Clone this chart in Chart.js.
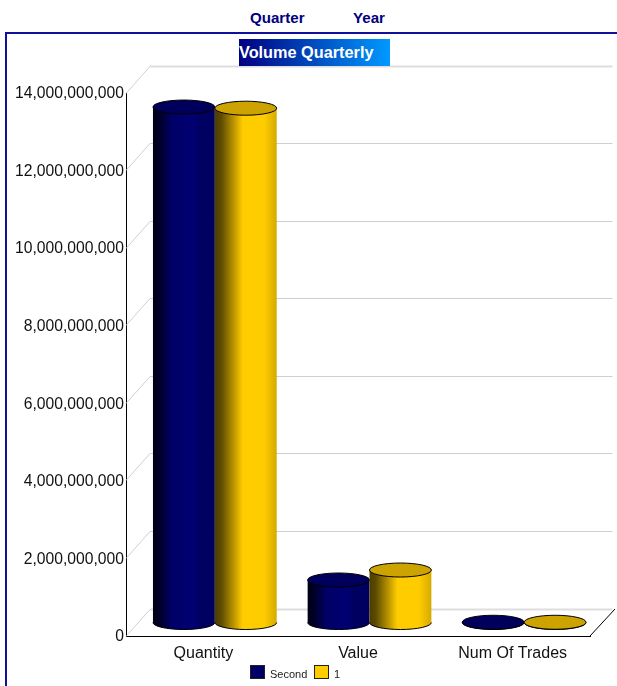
<!DOCTYPE html>
<html>
<head>
<meta charset="utf-8">
<title>Volume Quarterly</title>
<script src="https://cdn.jsdelivr.net/npm/chart.js@4"></script>
<style>
    html, body { margin: 0; padding: 0; background: #fff; overflow: hidden; }
    body { width: 617px; height: 686px; position: relative; font-family: "Liberation Sans", Arial, sans-serif; }
    .tab { position: absolute; top: 9px; font-size: 15.1px; font-weight: bold; color: #000080; }
    #frame { position: absolute; left: 5px; top: 32px; width: 640px; height: 680px; border: 2px solid #10109a; box-sizing: border-box; }
    #title { position: absolute; left: 239px; top: 39px; width: 151px; height: 27px; line-height: 27px; color: #fff; font-size: 16.3px; font-weight: bold; white-space: nowrap; background: linear-gradient(to right, #000080, #0099ff); }
    #chart { position: absolute; left: 0; top: 0; }
    #legend { position: absolute; left: 250px; top: 665px; font-size: 11px; color: #222; }
    #legend span { position: absolute; top: 0; white-space: nowrap; line-height: 18px; }
    #legend i { position: absolute; top: 0; width: 13px; height: 12px; border: 1px solid #222; }
</style>
</head>
<body>
<div class="tab" style="left:250px">Quarter</div>
<div class="tab" style="left:353px">Year</div>
<div id="frame"></div>
<canvas id="chart" width="617" height="686"></canvas>
<div id="title">Volume Quarterly</div>
<div id="legend"></div>
<script>
// Data
const categories = ['Quantity', 'Value', 'Num Of Trades'];
const seriesNames = ['Second', '1'];
const secondValues = [13290000000, 1096000000, 6000000];
const firstValues = [13260000000, 1353000000, 6000000];
const yTicks = [0, 2000000000, 4000000000, 6000000000, 8000000000, 10000000000, 12000000000, 14000000000];

const seriesColors = ['#000066', '#ffcc00'];
const topColors = ['#00005c', '#cca300'];
const sideStops = [
    [[0, '#000014'], [0.12, '#00002a'], [0.3, '#000066'], [0.55, '#000070'], [0.68, '#000070'], [0.75, '#000060'], [1, '#000060']],
    [[0, '#4d3e00'], [0.1, '#5c4a00'], [0.3, '#b89300'], [0.45, '#ffcc00'], [0.8, '#ffcc00'], [1, '#d4aa00']]
];

// Depth of the fake 3d box, and how far the cylinders sit inside it
const depthX = 24;
const depthY = 27;
const ellipseRy = 7;

const cylinders3d = {
    id: 'cylinders3d',
    beforeDatasetsDraw(chart) {
        const { ctx, chartArea: area, scales: { y } } = chart;

        ctx.save();
        // back wall and left wall lines, top and floor edges are heavier
        yTicks.forEach(tick => {
            const py = Math.floor(y.getPixelForValue(tick)) + 0.5;
            const heavy = tick === yTicks[0] || tick === yTicks[yTicks.length - 1];
            ctx.beginPath();
            ctx.moveTo(area.left, py);
            ctx.lineTo(area.left + depthX, py - depthY);
            ctx.strokeStyle = '#cfcfcf';
            ctx.lineWidth = 1;
            ctx.stroke();
            ctx.beginPath();
            ctx.moveTo(area.left + depthX, py - depthY);
            ctx.lineTo(area.right + depthX - 1.5, py - depthY);
            ctx.strokeStyle = heavy ? '#dddddd' : '#cfcfcf';
            ctx.lineWidth = heavy ? 2 : 1;
            ctx.stroke();
        });
        // floor right edge
        const floorY = y.getPixelForValue(0);
        ctx.strokeStyle = '#000';
        ctx.lineWidth = 1;
        ctx.beginPath();
        ctx.moveTo(area.right, floorY);
        ctx.lineTo(area.right + depthX + 1, floorY - depthY);
        ctx.stroke();

        chart.data.datasets.forEach((ds, i) => {
            chart.getDatasetMeta(i).data.forEach(bar => {
                const cx = bar.x + depthX / 2 - 0.5;
                const rx = bar.width / 2;
                const top = bar.y - depthY / 2;
                const bottom = bar.base - depthY / 2;

                const side = ctx.createLinearGradient(cx - rx, 0, cx + rx, 0);
                sideStops[i].forEach(s => side.addColorStop(s[0], s[1]));

                ctx.beginPath();
                ctx.moveTo(cx - rx, top);
                ctx.lineTo(cx - rx, bottom);
                ctx.ellipse(cx, bottom, rx, ellipseRy, 0, Math.PI, 0, true);
                ctx.lineTo(cx + rx, top);
                ctx.closePath();
                ctx.fillStyle = side;
                ctx.fill();

                // only the bottom arc and the top cap get an outline
                ctx.strokeStyle = '#000';
                ctx.beginPath();
                ctx.ellipse(cx, bottom, rx, ellipseRy, 0, Math.PI, 0, true);
                ctx.stroke();

                ctx.beginPath();
                ctx.ellipse(cx, top, rx, ellipseRy, 0, 0, Math.PI * 2);
                ctx.fillStyle = topColors[i];
                ctx.fill();
                ctx.stroke();
            });
        });
        ctx.restore();
        return false;
    }
};

new Chart(document.getElementById('chart'), {
    type: 'bar',
    data: {
        labels: categories,
        datasets: [
            { label: seriesNames[0], data: secondValues, backgroundColor: seriesColors[0] },
            { label: seriesNames[1], data: firstValues, backgroundColor: seriesColors[1] }
        ]
    },
    options: {
        responsive: false,
        animation: false,
        categoryPercentage: 0.8,
        barPercentage: 1,
        layout: { padding: { top: 93, right: 27, bottom: 0, left: 0 } },
        plugins: {
            legend: { display: false },
            title: { display: false },
            tooltip: { enabled: false }
        },
        scales: {
            x: {
                grid: { display: false, drawTicks: false },
                border: { color: '#000', width: 1 },
                ticks: { color: '#111', font: { family: '"Liberation Sans"', size: 16 }, padding: 8, maxRotation: 0 },
                afterFit(scale) { scale.height = 50; }
            },
            y: {
                min: 0,
                max: 14000000000,
                afterBuildTicks(scale) { scale.ticks = yTicks.map(v => ({ value: v })); },
                grid: { display: false, drawTicks: false },
                border: { color: '#000', width: 1 },
                ticks: {
                    color: '#111',
                    font: { family: '"Liberation Sans"', size: 15.7 },
                    padding: 2,
                    labelOffset: 1,
                    callback: v => v.toLocaleString('en-US')
                },
                afterFit(scale) { scale.width = 126; }
            }
        }
    },
    plugins: [cylinders3d]
});

// Legend
const legend = document.getElementById('legend');
[[0, 20], [64, 84]].forEach((pos, i) => {
    const box = document.createElement('i');
    box.style.left = pos[0] + 'px';
    box.style.background = seriesColors[i];
    const text = document.createElement('span');
    text.style.left = pos[1] + 'px';
    text.textContent = seriesNames[i];
    legend.appendChild(box);
    legend.appendChild(text);
});
</script>
</body>
</html>
